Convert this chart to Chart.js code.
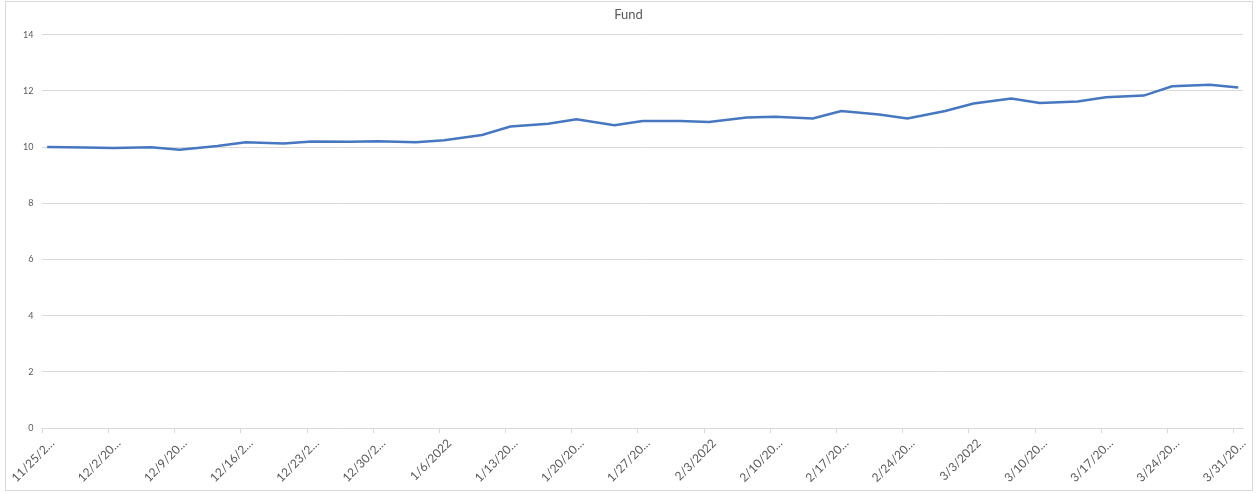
<!DOCTYPE html>
<html>
<head>
<meta charset="utf-8">
<script src="https://cdn.jsdelivr.net/npm/chart.js@4/dist/chart.umd.min.js"></script>
<style>
  body { margin: 0; background: #fff; }
  #box {
    position: absolute; left: 5px; top: 1px;
    width: 1246px; height: 488px;
    border: 1px solid #d9d9d9; background: #fff;
  }
</style>
</head>
<body>
<div id="box"><canvas id="graficoFund"></canvas></div>
<script>
const dates = [
  '11/25/2021', '11/29/2021', '12/2/2021', '12/6/2021', '12/9/2021', '12/13/2021',
  '12/16/2021', '12/20/2021', '12/23/2021', '12/27/2021', '12/30/2021', '1/3/2022',
  '1/6/2022', '1/10/2022', '1/13/2022', '1/17/2022', '1/20/2022', '1/24/2022',
  '1/27/2022', '1/31/2022', '2/3/2022', '2/7/2022', '2/10/2022', '2/14/2022',
  '2/17/2022', '2/21/2022', '2/24/2022', '2/28/2022', '3/3/2022', '3/7/2022',
  '3/10/2022', '3/14/2022', '3/17/2022', '3/21/2022', '3/24/2022', '3/28/2022',
  '3/31/2022'
];
const fund = [
  10.00, 9.98, 9.97, 9.99, 9.90, 10.04,
  10.17, 10.13, 10.20, 10.19, 10.21, 10.17,
  10.24, 10.43, 10.73, 10.83, 10.99, 10.78,
  10.93, 10.93, 10.89, 11.05, 11.08, 11.02,
  11.28, 11.16, 11.02, 11.28, 11.55, 11.73,
  11.57, 11.62, 11.77, 11.83, 12.16, 12.22,
  12.12
];
const yTicks = [0, 2, 4, 6, 8, 10, 12, 14];

const DAY = 86400000;
function toUTC(s) {
  const p = s.split('/');
  return Date.UTC(+p[2], +p[0] - 1, +p[1]);
}
const start = toUTC(dates[0]);
const end = toUTC(dates[dates.length - 1]);
const span = Math.round((end - start) / DAY) + 1;

// Excel style: each date sits in the middle of its day slot
const pontos = dates.map((d, i) => ({ x: (toUTC(d) - start) / DAY + 0.5, y: fund[i] }));

function rotulo(v) {
  const d = new Date(start + Math.round(v) * DAY);
  const s = (d.getUTCMonth() + 1) + '/' + d.getUTCDate() + '/' + d.getUTCFullYear();
  return s.length > 8 ? s.slice(0, 7) + '\u2026' : s;
}

const fonte = "Lato, 'Open Sans', sans-serif";
const ctx = document.getElementById('graficoFund').getContext('2d');
const grafico = new Chart(ctx, {
  type: 'line',
  data: {
    datasets: [{
      label: 'Fund',
      data: pontos,
      borderColor: '#4677c0',
      borderWidth: 2.5,
      pointRadius: 0,
      fill: false,
      tension: 0
    }]
  },
  options: {
    responsive: true,
    maintainAspectRatio: false,
    animation: false,
    layout: { padding: { left: 8, right: 9, top: 0, bottom: 2 } },
    plugins: {
      legend: { display: false },
      tooltip: { enabled: false },
      title: {
        display: true,
        text: 'Fund',
        color: '#595959',
        font: { family: fonte, size: 13, weight: 'normal' },
        padding: { top: 5, bottom: 12 }
      }
    },
    scales: {
      x: {
        type: 'linear',
        min: 0,
        max: span,
        afterBuildTicks: axis => {
          const t = [];
          for (let v = 0; v < span; v += 7) t.push({ value: v });
          axis.ticks = t;
        },
        // labels are shifted right, so the first one needs less room on the left
        afterFit: axis => { axis.paddingLeft = 20; axis.paddingRight = 0; },
        ticks: {
          callback: v => rotulo(v),
          minRotation: 45,
          maxRotation: 45,
          autoSkip: false,
          color: '#595959',
          font: { family: fonte, size: 12 },
          padding: 3,
          labelOffset: 10
        },
        grid: {
          drawOnChartArea: false,
          drawTicks: true,
          tickLength: 5,
          color: '#d9d9d9'
        },
        border: { color: '#d9d9d9' }
      },
      y: {
        min: 0,
        max: 14,
        afterBuildTicks: axis => { axis.ticks = yTicks.map(v => ({ value: v })); },
        ticks: {
          color: '#595959',
          font: { family: fonte, size: 9 },
          padding: 9
        },
        grid: { color: '#d9d9d9', drawTicks: false },
        border: { display: false }
      }
    }
  }
});
</script>
</body>
</html>
